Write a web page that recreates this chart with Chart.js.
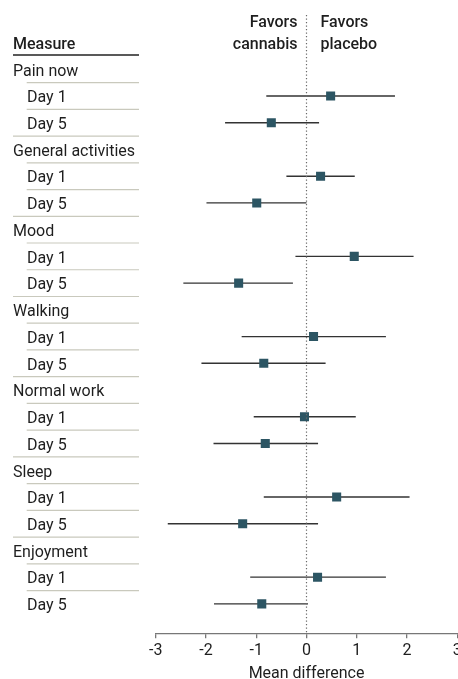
<!DOCTYPE html>
<html>
<head>
<meta charset="utf-8">
<script src="https://cdn.jsdelivr.net/npm/chart.js@4"></script>
<style>
html,body{margin:0;padding:0;background:#fff;overflow:hidden;}
#wrap{width:458px;height:679px;position:relative;overflow:hidden;}
</style>
</head>
<body>
<div id="wrap"><canvas id="c" width="480" height="684"></canvas></div>
<script>
const measures = ["Pain now","General activities","Mood","Walking","Normal work","Sleep","Enjoyment"];
const dayLabels = ["Day 1","Day 5"];
const day1Mean  = [0.48, 0.28, 0.95, 0.14, -0.04, 0.60, 0.22];
const day1Lower = [-0.80, -0.40, -0.22, -1.29, -1.05, -0.85, -1.12];
const day1Upper = [1.76, 0.96, 2.13, 1.58, 0.98, 2.05, 1.58];
const day5Mean  = [-0.70, -0.99, -1.35, -0.85, -0.82, -1.27, -0.89];
const day5Lower = [-1.62, -1.99, -2.45, -2.09, -1.85, -2.76, -1.84];
const day5Upper = [0.25, 0.00, -0.27, 0.38, 0.23, 0.23, 0.03];
const xTicks = [-3, -2, -1, 0, 1, 2, 3];
const xTitle = "Mean difference";
const headerLeft = "Measure";
const headerFavorsLeft = ["Favors", "cannabis"];
const headerFavorsRight = ["Favors", "placebo"];

const FONT = "Roboto, 'Liberation Sans', sans-serif";
const TXT = "#1e1e1e";

// build row list
const rows = [];
measures.forEach((m, g) => {
  rows.push({label: m, type: "group"});
  rows.push({label: dayLabels[0], type: "day", mean: day1Mean[g], lo: day1Lower[g], hi: day1Upper[g]});
  rows.push({label: dayLabels[1], type: "day", mean: day5Mean[g], lo: day5Lower[g], hi: day5Upper[g], last: true});
});

const pointData = [];
const datasets = [];
rows.forEach((r, i) => {
  if (r.type === "day") {
    pointData.push({x: r.mean, y: i});
    datasets.push({
      type: "scatter",
      data: [{x: r.lo, y: i}, {x: r.hi, y: i}],
      showLine: true,
      borderColor: "#333333",
      borderWidth: 1.4,
      pointRadius: 0,
      order: 2
    });
  }
});
datasets.unshift({
  type: "scatter",
  data: pointData,
  pointStyle: "rect",
  pointRadius: 6.4,
  pointBackgroundColor: "#2c5563",
  pointBorderWidth: 0,
  order: 0
});

const tablePlugin = {
  id: "table",
  afterDraw(chart) {
    const ctx = chart.ctx;
    const y = chart.scales.y;
    const x = chart.scales.x;
    const area = chart.chartArea;
    ctx.save();
    // zero line
    const x0 = x.getPixelForValue(0);
    ctx.strokeStyle = "#6a6a6a";
    ctx.lineWidth = 1.2;
    ctx.setLineDash([1.3, 2.2]);
    ctx.beginPath();
    ctx.moveTo(x0, area.top);
    ctx.lineTo(x0, area.bottom);
    ctx.stroke();
    ctx.setLineDash([]);

    // headers
    ctx.fillStyle = TXT;
    ctx.font = "500 16px " + FONT;
    ctx.textAlign = "left";
    ctx.textBaseline = "alphabetic";
    ctx.fillText(headerLeft, 13, 48.7);
    ctx.textAlign = "right";
    ctx.fillText(headerFavorsLeft[0], x0 - 9, 27.3);
    ctx.fillText(headerFavorsLeft[1], x0 - 9, 48.7);
    ctx.textAlign = "left";
    ctx.fillText(headerFavorsRight[0], x0 + 14, 27.3);
    ctx.fillText(headerFavorsRight[1], x0 + 14, 48.7);

    ctx.strokeStyle = "#222";
    ctx.lineWidth = 1.6;
    ctx.beginPath();
    ctx.moveTo(13, 55);
    ctx.lineTo(139, 55);
    ctx.stroke();

    // rows
    ctx.font = "16px " + FONT;
    rows.forEach((r, i) => {
      const py = y.getPixelForValue(i);
      ctx.fillStyle = TXT;
      ctx.textAlign = "left";
      ctx.fillText(r.label, r.type === "group" ? 13 : 27, py + 6.3);
      if (i < rows.length - 1) {
        const sy = (y.getPixelForValue(i) + y.getPixelForValue(i + 1)) / 2;
        ctx.strokeStyle = "#c9c9bd";
        ctx.lineWidth = 1.2;
        ctx.beginPath();
        ctx.moveTo(r.last ? 13 : 26.7, sy);
        ctx.lineTo(139, sy);
        ctx.stroke();
      }
    });
    ctx.restore();
  }
};

new Chart(document.getElementById("c"), {
  data: {datasets},
  options: {
    responsive: false,
    devicePixelRatio: 1,
    animation: false,
    events: [],
    layout: {padding: {left: 155.7, right: 22.7, top: 15, bottom: 0}},
    plugins: {legend: {display: false}, tooltip: {enabled: false}},
    scales: {
      x: {
        type: "linear",
        min: -3, max: 3,
        afterBuildTicks(s) { s.ticks = xTicks.map(v => ({value: v})); },
        ticks: {color: TXT, font: {family: FONT, size: 16}, padding: 3.5, maxRotation: 0},
        grid: {drawOnChartArea: false, tickLength: 5, color: "#777", lineWidth: 1.3},
        border: {color: "#777", width: 1.3},
        title: {display: true, text: xTitle, color: TXT, font: {family: FONT, size: 16}, padding: {top: 0.3, bottom: 0}}
      },
      y: {
        type: "linear",
        reverse: true,
        min: -2.03, max: 21.10,
        display: false
      }
    }
  },
  plugins: [tablePlugin]
});
</script>
</body>
</html>
